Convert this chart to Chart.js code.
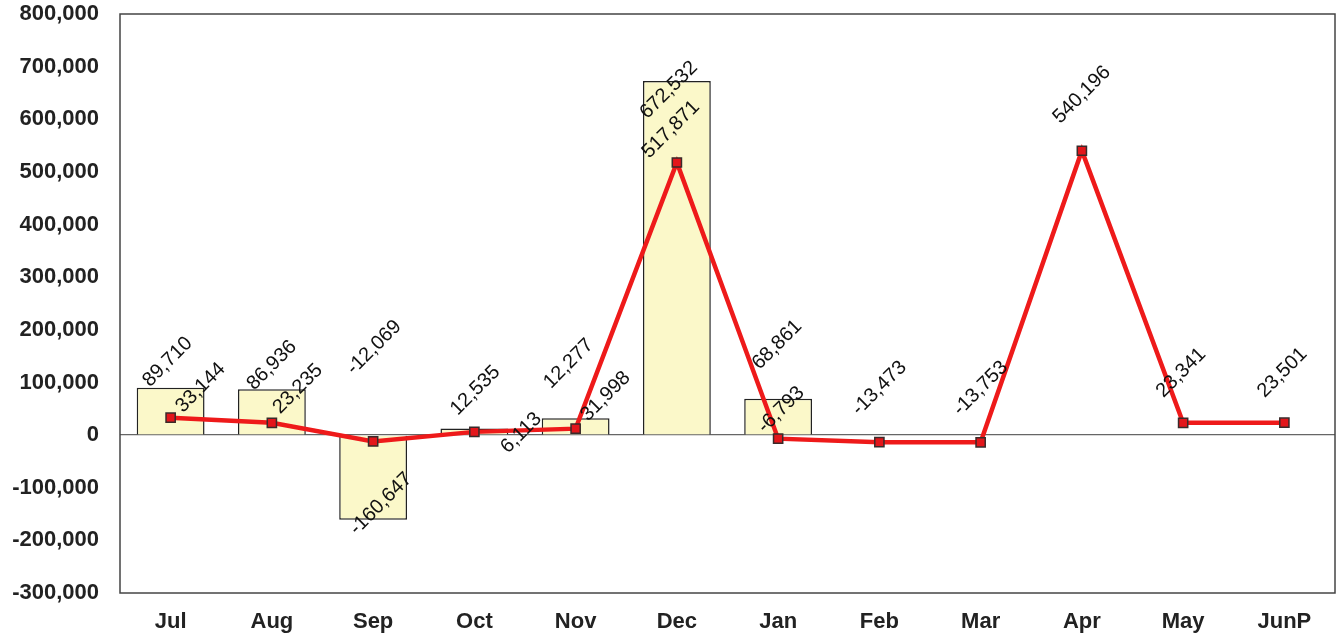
<!DOCTYPE html>
<html>
<head>
<meta charset="utf-8">
<script src="https://cdn.jsdelivr.net/npm/chart.js@4.4.1/dist/chart.umd.min.js"></script>
<style>
  html, body { margin: 0; padding: 0; background: #fff; }
  #wrap { width: 1343px; height: 637px; }
</style>
</head>
<body>
<div id="wrap"><canvas id="chart" width="1343" height="637"></canvas></div>
<script>
// Data
const months = ['Jul', 'Aug', 'Sep', 'Oct', 'Nov', 'Dec', 'Jan', 'Feb', 'Mar', 'Apr', 'May', 'JunP'];
const barValues = [89710, 86936, -160647, 12535, 31998, 672532, 68861, null, null, null, null, null];
const lineValues = [33144, 23235, -12069, 6113, 12277, 517871, -6793, -13473, -13753, 540196, 23341, 23501];
const yMin = -300000;
const yMax = 800000;
const yStep = 100000;

// label offsets (px, from the mark) - hand placed like the original
const barLabelOffsets = [[-3, -26], [0, -24], [8, -16], [1, -38], [30, -22], [-8, 9], [-1, -54]];
const lineLabelOffsets = [[30, -30], [26, -34], [1, -94], [47, 1], [-7, -65], [-6, -33], [3, -29],
    [0, -54], [0, -54], [0, -56], [-2, -50], [-2, -50]];

const fmt = v => v.toLocaleString('en-US');

// frame + rotated value labels
const frameAndLabels = {
    id: 'frameAndLabels',
    afterDatasetsDraw(chart) {
        const ctx = chart.ctx;
        const a = chart.chartArea;
        ctx.save();
        ctx.strokeStyle = '#444';
        ctx.lineWidth = 1.5;
        ctx.strokeRect(a.left, a.top, a.right - a.left, a.bottom - a.top);

        ctx.font = '20px "Liberation Sans", Arial, sans-serif';
        ctx.fillStyle = '#111';
        ctx.textAlign = 'center';
        ctx.textBaseline = 'middle';
        chart.data.datasets.forEach((ds, di) => {
            const meta = chart.getDatasetMeta(di);
            const offsets = ds.type === 'bar' ? barLabelOffsets : lineLabelOffsets;
            meta.data.forEach((el, i) => {
                const v = ds.data[i];
                if (v === null || v === undefined) return;
                const off = offsets[i] || [0, -30];
                ctx.save();
                ctx.translate(el.x + off[0], el.y + off[1]);
                ctx.rotate(-Math.PI / 4);
                ctx.fillText(fmt(v), 0, 0);
                ctx.restore();
            });
        });
        ctx.restore();
    }
};

const ctx = document.getElementById('chart').getContext('2d');
new Chart(ctx, {
    data: {
        labels: months,
        datasets: [
            {
                type: 'line',
                label: 'Line',
                data: lineValues,
                borderColor: '#EE1A1A',
                borderWidth: 4.5,
                pointStyle: 'rect',
                pointRadius: 6.5,
                pointBackgroundColor: '#E3161B',
                pointBorderColor: '#3a2a2a',
                pointBorderWidth: 1.5,
                tension: 0,
                order: 0
            },
            {
                type: 'bar',
                label: 'Bar',
                data: barValues,
                backgroundColor: '#FBF8C9',
                borderColor: '#222',
                borderWidth: 1.5,
                categoryPercentage: 1,
                barPercentage: 0.67,
                order: 1
            }
        ]
    },
    options: {
        responsive: false,
        animation: false,
        layout: { padding: { top: 14, right: -4, left: 0, bottom: 0 } },
        plugins: {
            legend: { display: false },
            tooltip: { enabled: false }
        },
        scales: {
            x: {
                grid: { display: false, drawTicks: false },
                border: { display: false },
                ticks: {
                    padding: 16,
                    color: '#222',
                    font: { family: '"Liberation Sans", Arial, sans-serif', size: 22, weight: 'bold' }
                },
                afterFit(scale) {
                    scale.height = 44;
                    scale.paddingLeft = 0;
                    scale.paddingRight = 0;
                }
            },
            y: {
                min: yMin,
                max: yMax,
                grid: {
                    drawTicks: false,
                    color: c => c.tick && c.tick.value === 0 ? '#666' : 'rgba(0,0,0,0)',
                    lineWidth: 1.2
                },
                border: { display: false },
                ticks: {
                    stepSize: yStep,
                    padding: 21,
                    color: '#222',
                    font: { family: '"Liberation Sans", Arial, sans-serif', size: 22, weight: 'bold' },
                    callback: v => fmt(v)
                },
                afterFit(scale) {
                    scale.width = 120;
                    scale.paddingTop = 0;
                    scale.paddingBottom = 0;
                }
            }
        }
    },
    plugins: [frameAndLabels]
});
</script>
</body>
</html>
